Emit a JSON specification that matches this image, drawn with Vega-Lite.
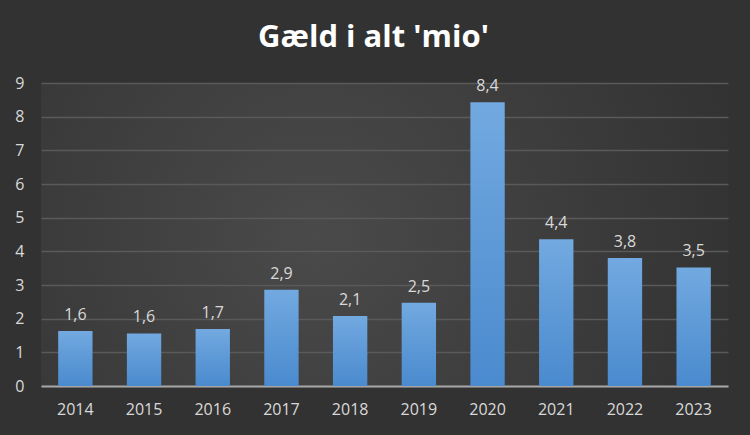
{
  "$schema": "https://vega.github.io/schema/vega-lite/v6.json",
  "width": 687,
  "height": 303,
  "autosize": {"type": "none"},
  "padding": {"left": 41, "top": 83, "right": 22, "bottom": 49},
  "background": "#323232",
  "title": {
    "text": "Gæld i alt 'mio'",
    "font": "Open Sans",
    "fontSize": 31,
    "fontWeight": "bold",
    "color": "#ffffff",
    "anchor": "middle",
    "offset": 21,
    "dx": -11
  },
  "data": {
    "values": [
      {"year": "2014", "value": 1.63},
      {"year": "2015", "value": 1.56},
      {"year": "2016", "value": 1.69},
      {"year": "2017", "value": 2.86},
      {"year": "2018", "value": 2.08},
      {"year": "2019", "value": 2.47},
      {"year": "2020", "value": 8.43},
      {"year": "2021", "value": 4.36},
      {"year": "2022", "value": 3.8},
      {"year": "2023", "value": 3.52}
    ]
  },
  "encoding": {
    "x": {
      "field": "year",
      "type": "nominal",
      "scale": {"paddingInner": 0.5, "paddingOuter": 0.25},
      "axis": {
        "title": null,
        "labelAngle": 0,
        "ticks": false,
        "tickSize": 0,
        "labelPadding": 15,
        "labelFont": "Open Sans",
        "labelFontSize": 16,
        "labelColor": "#d9d9d9",
        "domainColor": "#a6a6a6",
        "domainWidth": 2,
        "grid": false
      }
    },
    "y": {
      "field": "value",
      "type": "quantitative",
      "scale": {"domain": [0, 9], "nice": false},
      "axis": {
        "title": null,
        "values": [0, 1, 2, 3, 4, 5, 6, 7, 8, 9],
        "format": "d",
        "domain": false,
        "ticks": false,
        "tickSize": 0,
        "labelPadding": 17,
        "labelFont": "Open Sans",
        "labelFontSize": 16,
        "labelColor": "#d9d9d9",
        "gridColor": "#5a5a5a",
        "gridWidth": 1.5
      }
    }
  },
  "layer": [
    {
      "mark": {
        "type": "bar",
        "fill": {"gradient": "linear", "x1": 0, "y1": 0, "x2": 0, "y2": 1, "stops": [{"offset": 0, "color": "#72a9e0"}, {"offset": 1, "color": "#4a8ace"}]}
      }
    },
    {
      "mark": {"type": "text", "baseline": "bottom", "dy": -8, "font": "Open Sans", "fontSize": 16, "color": "#d9d9d9"},
      "encoding": {"text": {"field": "value", "type": "quantitative", "format": ".1f"}}
    }
  ],
  "config": {
    "view": {"stroke": null, "fill": {"gradient": "radial", "x1": 0.4, "y1": 0.5, "r1": 0, "x2": 0.4, "y2": 0.5, "r2": 0.75, "stops": [{"offset": 0, "color": "#4a4a4a"}, {"offset": 1, "color": "#2e2e2e"}]}},
    "locale": {"number": {"decimal": ",", "thousands": ".", "grouping": [3], "currency": ["", " kr."]}}
  }
}
